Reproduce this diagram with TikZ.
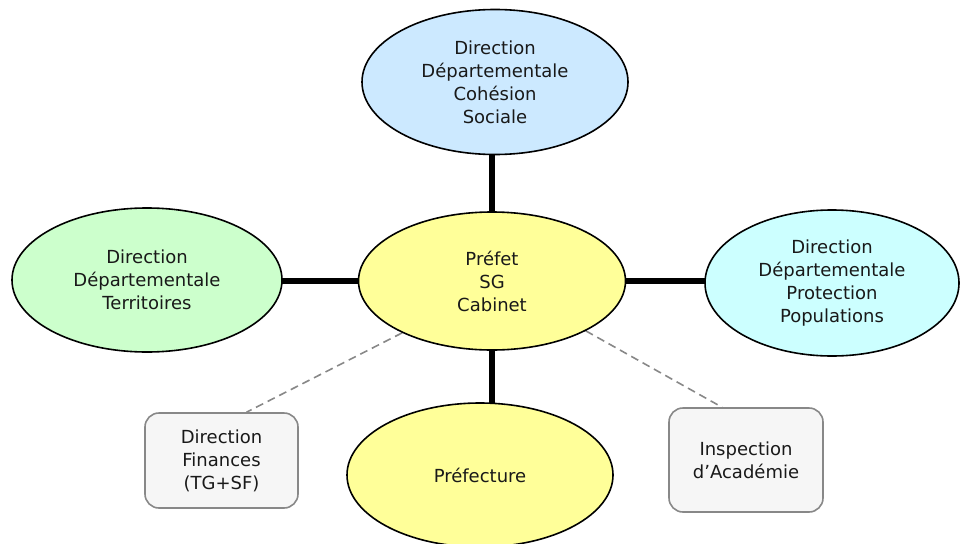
\documentclass[tikz,border=0pt]{standalone}
\usepackage{fontspec}
\setmainfont{DejaVu Sans}
\usetikzlibrary{shapes.geometric,backgrounds,calc}
\definecolor{cblue}{HTML}{CCE9FF}
\definecolor{cyel}{HTML}{FFFF99}
\definecolor{cgreen}{HTML}{CCFFCC}
\definecolor{ccyan}{HTML}{CCFFFF}
\definecolor{cbox}{HTML}{F6F6F6}
\definecolor{cgray}{HTML}{888888}
\tikzset{
  ell/.style={ellipse, draw=black, line width=1.6pt, inner sep=0pt, align=center,
    font=\fontsize{18}{23}\selectfont, text=black!90},
  sbox/.style={draw=cgray, fill=cbox, line width=1.6pt, rounded corners=14pt, inner sep=0pt,
    align=center, font=\fontsize{18}{23}\selectfont, text=black!90},
  thickln/.style={line width=5.5pt, black},
  dashln/.style={cgray, line width=1.6pt, dash pattern=on 8pt off 5pt}
}
\begin{document}
\begin{tikzpicture}[x=1pt,y=-1pt]
\useasboundingbox (0,0) rectangle (960,543);
\node[ell, fill=cblue, minimum width=266pt, minimum height=145pt] (top) at (495,82)
  {Direction\\Départementale\\Cohésion\\Sociale};
\node[ell, fill=cyel, minimum width=267pt, minimum height=138pt] (center) at (492,281)
  {Préfet\\SG\\Cabinet};
\node[ell, fill=cgreen, minimum width=270pt, minimum height=144pt] (left) at (147,280)
  {Direction\\Départementale\\Territoires};
\node[ell, fill=ccyan, minimum width=254pt, minimum height=146pt] (right) at (832,283)
  {Direction\\Départementale\\Protection\\Populations};
\node[ell, fill=cyel, minimum width=266pt, minimum height=144pt] (bottom) at (480,475)
  {Préfecture};
\node[sbox, minimum width=153pt, minimum height=95pt] (lbox) at (221.5,460.5)
  {Direction\\Finances\\(TG+SF)};
\node[sbox, minimum width=154pt, minimum height=104pt] (rbox) at (746,460)
  {Inspection\\d’Académie};
\begin{pgfonlayer}{background}
  \draw[thickln] (center.north) -- (center.north |- top.south);
  \draw[thickln] (center.west) -- ($(center.west -| left.east)+(-6,0)$);
  \draw[thickln] (center.east) -- ($(center.east -| right.west)+(6,0)$);
  \draw[thickln] (center.south) -- ($(center.south |- bottom.north)+(0,6)$);
  \draw[dashln] (center.210) -- ($(lbox.north)+(25,0)$);
  \draw[dashln] (center.-28) -- ($(rbox.north)+(-24,0)$);
\end{pgfonlayer}
\end{tikzpicture}
\end{document}
